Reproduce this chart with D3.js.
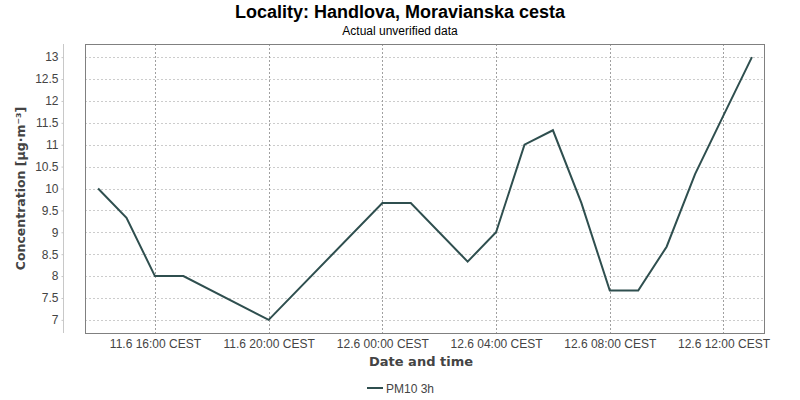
<!DOCTYPE html>
<html>
<head>
<meta charset="utf-8">
<script src="https://cdn.jsdelivr.net/npm/d3@7"></script>
<style>
  body { margin: 0; background: #fff; }
  svg { display: block; }
</style>
</head>
<body>
<svg id="chart" width="800" height="400"></svg>
<script>
// ---- Data ----
const times = [
  "2024-06-11T14:00", "2024-06-11T15:00", "2024-06-11T16:00", "2024-06-11T17:00",
  "2024-06-11T20:00", "2024-06-12T00:00", "2024-06-12T01:00", "2024-06-12T03:00",
  "2024-06-12T04:00", "2024-06-12T05:00", "2024-06-12T06:00", "2024-06-12T07:00",
  "2024-06-12T08:00", "2024-06-12T09:00", "2024-06-12T10:00", "2024-06-12T11:00",
  "2024-06-12T12:00", "2024-06-12T13:00"
];
const pm10 = [10.0, 9.33, 8.0, 8.0, 7.0, 9.67, 9.67, 8.33, 9.0, 11.0, 11.33, 9.67, 7.67, 7.67, 8.67, 10.33, 11.67, 13.0];
const xTickTimes = ["2024-06-11T16:00", "2024-06-11T20:00", "2024-06-12T00:00", "2024-06-12T04:00", "2024-06-12T08:00", "2024-06-12T12:00"];
const xTickLabels = ["11.6 16:00 CEST", "11.6 20:00 CEST", "12.6 00:00 CEST", "12.6 04:00 CEST", "12.6 08:00 CEST", "12.6 12:00 CEST"];
const yTicks = [7, 7.5, 8, 8.5, 9, 9.5, 10, 10.5, 11, 11.5, 12, 12.5, 13];
const seriesName = "PM10 3h";
const titleText = "Locality: Handlova, Moravianska cesta";
const subtitleText = "Actual unverified data";
const xLabel = "Date and time";
const yLabel = "Concentration [µg·m⁻³]";

// ---- Layout ----
const parse = d3.timeParse("%Y-%m-%dT%H:%M");
const data = times.map((t, i) => ({ t: parse(t), v: pm10[i] }));
const plot = { left: 85, right: 765, top: 44, bottom: 333 };
const hour = 3600 * 1000;
const tMin = d3.min(data, d => d.t), tMax = d3.max(data, d => d.t);
const x = d3.scaleTime()
  .domain([new Date(+tMin - 0.46 * hour), new Date(+tMax + 0.46 * hour)])
  .range([plot.left, plot.right]);
const y = d3.scaleLinear().domain([6.7, 13.3]).range([plot.bottom, plot.top]);

const svg = d3.select("#chart");
const fontSans = "'Liberation Sans', Arial, sans-serif";
const fontBold = "'DejaVu Sans', sans-serif";

// Titles
svg.append("text").attr("x", 400).attr("y", 18).attr("text-anchor", "middle")
  .style("font-family", fontSans).style("font-weight", "bold").style("font-size", "18px")
  .attr("fill", "#000").text(titleText);
svg.append("text").attr("x", 400).attr("y", 35).attr("text-anchor", "middle")
  .style("font-family", fontSans).style("font-size", "12px")
  .attr("fill", "#000").text(subtitleText);

// Gridlines
const g = svg.append("g");
g.selectAll("line.hgrid").data(yTicks).join("line")
  .attr("x1", plot.left).attr("x2", plot.right)
  .attr("y1", d => Math.round(y(d)) + 0.5).attr("y2", d => Math.round(y(d)) + 0.5)
  .attr("stroke", "#cccccc").attr("stroke-width", 1).attr("stroke-dasharray", "2,2");
g.selectAll("line.vgrid").data(xTickTimes.map(parse)).join("line")
  .attr("x1", d => Math.round(x(d)) + 0.5).attr("x2", d => Math.round(x(d)) + 0.5)
  .attr("y1", plot.top).attr("y2", plot.bottom + 3)
  .attr("stroke", "#a0a0a0").attr("stroke-width", 1).attr("stroke-dasharray", "2,2");

// Plot border
svg.append("rect").attr("x", plot.left + 0.5).attr("y", plot.top + 0.5)
  .attr("width", plot.right - plot.left - 1).attr("height", plot.bottom - plot.top)
  .attr("fill", "none").attr("stroke", "#808080").attr("stroke-width", 1);

// Y axis (offset)
const yAxis = d3.axisLeft(y).tickValues(yTicks).tickSize(2).tickPadding(3)
  .tickFormat(d => d3.format("")(d));
const yg = svg.append("g").attr("transform", "translate(63.5,0)").call(yAxis);
yg.select(".domain").attr("d", `M0,${plot.top}V${plot.bottom}`).attr("stroke", "#c8c8c8");
yg.selectAll(".tick line").attr("stroke", "#c8c8c8");
yg.selectAll(".tick text").style("font-family", fontSans).style("font-size", "12px").attr("fill", "#444");

// X axis labels
const xAxis = d3.axisBottom(x).tickValues(xTickTimes.map(parse)).tickSize(0).tickPadding(6)
  .tickFormat((d, i) => xTickLabels[i]);
const xg = svg.append("g").attr("transform", `translate(0,${plot.bottom})`).call(xAxis);
xg.select(".domain").remove();
xg.selectAll(".tick text").style("font-family", fontSans).style("font-size", "12px").attr("fill", "#444");

// Axis titles
svg.append("text").attr("x", (plot.left + plot.right) / 2 - 4).attr("y", 366).attr("text-anchor", "middle")
  .style("font-family", fontBold).style("font-weight", "bold").style("font-size", "13px")
  .attr("fill", "#444").text(xLabel);
svg.append("text").attr("transform", `translate(25,${(plot.top + plot.bottom) / 2}) rotate(-90)`)
  .attr("text-anchor", "middle")
  .style("font-family", fontBold).style("font-weight", "bold").style("font-size", "12.5px")
  .attr("fill", "#444").text(yLabel);

// Line
const line = d3.line().x(d => x(d.t)).y(d => y(d.v));
svg.append("path").datum(data).attr("d", line)
  .attr("fill", "none").attr("stroke", "#2f4f4f").attr("stroke-width", 2)
  .attr("stroke-linejoin", "miter");

// Legend
const lg = svg.append("g").attr("transform", "translate(367,388)");
lg.append("line").attr("x1", 0).attr("x2", 16).attr("y1", 0).attr("y2", 0)
  .attr("stroke", "#2f4f4f").attr("stroke-width", 2);
lg.append("text").attr("x", 19).attr("y", 4.5)
  .style("font-family", fontSans).style("font-size", "12px").attr("fill", "#444").text(seriesName);
</script>
</body>
</html>
